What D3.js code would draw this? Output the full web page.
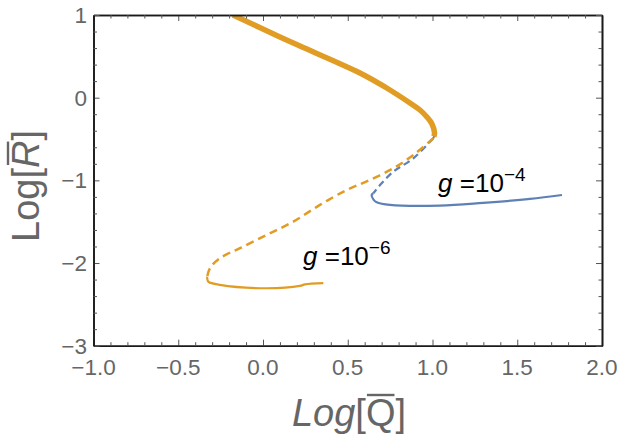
<!DOCTYPE html>
<html><head><meta charset="utf-8">
<script src="https://cdn.jsdelivr.net/npm/d3@7"></script>
<style>
html,body{margin:0;padding:0;background:#fff;}
svg{display:block;font-family:"Liberation Sans",Arial,sans-serif;}
</style></head>
<body>
<svg id="chart" width="623" height="440"></svg>
<script>
// ---- data (Log Q, Log R) ----
const xTicks = [-1.0, -0.5, 0.0, 0.5, 1.0, 1.5, 2.0];
const xTickLabels = ["\u22121.0", "\u22120.5", "0.0", "0.5", "1.0", "1.5", "2.0"];
const yTicks = [1, 0, -1, -2, -3];
const yTickLabels = ["1", "0", "\u22121", "\u22122", "\u22123"];

// g = 1e-4 (blue)
const blueStableUpper = [
  [-0.177, 1.000], [0.100, 0.728], [0.218, 0.618], [0.572, 0.292], [0.720, 0.120],
  [0.867, -0.072], [0.926, -0.158], [0.967, -0.245], [0.997, -0.340], [1.012, -0.440], [1.005, -0.491]
];
const blueUnstable = [
  [1.005, -0.491], [0.887, -0.733], [0.769, -0.895], [0.700, -1.035], [0.651, -1.156]
];
const blueStableLower = [
  [0.651, -1.156], [0.641, -1.177], [0.652, -1.232], [0.671, -1.265], [0.749, -1.297],
  [1.044, -1.306], [1.298, -1.273], [1.575, -1.225], [1.764, -1.177]
];

// g = 1e-6 (orange)
const orangeStableUpper = [
  [-0.177, 1.000], [0.100, 0.734], [0.218, 0.625], [0.572, 0.299], [0.720, 0.129],
  [0.867, -0.064], [0.926, -0.149], [0.967, -0.233], [0.997, -0.318], [1.012, -0.427], [1.008, -0.470]
];
const orangeUnstable = [
  [1.005, -0.491], [0.887, -0.693], [0.769, -0.854], [0.631, -0.995], [0.494, -1.116],
  [0.336, -1.297], [0.179, -1.499], [0.022, -1.660], [-0.136, -1.821], [-0.254, -1.942],
  [-0.313, -2.063], [-0.329, -2.164]
];
const orangeStableLower = [
  [-0.329, -2.164], [-0.329, -2.186], [-0.323, -2.225], [-0.254, -2.265], [0.022, -2.305],
  [0.218, -2.277], [0.248, -2.259], [0.356, -2.244]
];

const labels = [
  {x: 1.033, y: -1.14, exp: "\u22124"},
  {x: 0.236, y: -2.023, exp: "\u22126"}
];

// ---- layout ----
const svg = d3.select("#chart");
const L = 93.5, R = 602, T = 15, B = 345.7;
const x = d3.scaleLinear().domain([-1, 2]).range([L, R]);
const y = d3.scaleLinear().domain([-3, 1]).range([B, T]);

const blue = "#5E81B5", orange = "#E19C24";
const tickCol = "#666", labCol = "#666";

svg.append("clipPath").attr("id", "clip").append("rect")
  .attr("x", L).attr("y", T).attr("width", R - L).attr("height", B - T);

const line = d3.line().x(d => x(d[0])).y(d => y(d[1])).curve(d3.curveCatmullRom.alpha(0.5));
const g = svg.append("g").attr("clip-path", "url(#clip)");

g.append("path").datum(blueStableUpper).attr("d", line).attr("fill", "none")
  .attr("stroke", blue).attr("stroke-width", 2);
g.append("path").datum(orangeStableUpper).attr("d", line).attr("fill", "none")
  .attr("stroke", orange).attr("stroke-width", 5.5).attr("stroke-linecap", "butt");
g.append("path").datum(blueUnstable).attr("d", line).attr("fill", "none")
  .attr("stroke", blue).attr("stroke-width", 2.2).attr("stroke-dasharray", "7,4");
g.append("path").datum(blueStableLower).attr("d", line).attr("fill", "none")
  .attr("stroke", blue).attr("stroke-width", 2.2);
g.append("path").datum(orangeUnstable).attr("d", line).attr("fill", "none")
  .attr("stroke", orange).attr("stroke-width", 2.5).attr("stroke-dasharray", "8,5");
g.append("path").datum(orangeStableLower).attr("d", line).attr("fill", "none")
  .attr("stroke", orange).attr("stroke-width", 2.2);

// ---- axes (frame with inward ticks) ----
const xMinor = d3.range(-10, 21).map(v => v / 10).filter(v => Math.abs(v * 2 - Math.round(v * 2)) > 1e-6);
const yMinor = d3.range(-15, 6).map(v => v / 5).filter(v => Math.abs(v - Math.round(v)) > 1e-6);

function fmtNone() { return ""; }
const axB = d3.axisBottom(x).tickValues(xTicks).tickSizeInner(-6).tickSizeOuter(0).tickFormat(fmtNone);
const axBm = d3.axisBottom(x).tickValues(xMinor).tickSizeInner(-3.5).tickSizeOuter(0).tickFormat(fmtNone);
const axT = d3.axisTop(x).tickValues(xTicks).tickSizeInner(-6).tickSizeOuter(0).tickFormat(fmtNone);
const axTm = d3.axisTop(x).tickValues(xMinor).tickSizeInner(-3.5).tickSizeOuter(0).tickFormat(fmtNone);
const axL = d3.axisLeft(y).tickValues(yTicks).tickSizeInner(-6).tickSizeOuter(0).tickFormat(fmtNone);
const axLm = d3.axisLeft(y).tickValues(yMinor).tickSizeInner(-3.5).tickSizeOuter(0).tickFormat(fmtNone);
const axR = d3.axisRight(y).tickValues(yTicks).tickSizeInner(-6).tickSizeOuter(0).tickFormat(fmtNone);
const axRm = d3.axisRight(y).tickValues(yMinor).tickSizeInner(-3.5).tickSizeOuter(0).tickFormat(fmtNone);

function styleAx(sel) {
  sel.select(".domain").attr("stroke", "#1a1a1a").attr("stroke-width", 1.6);
  sel.selectAll(".tick line").attr("stroke", "#555").attr("stroke-width", 1);
}
[[axB, `translate(0,${B})`], [axBm, `translate(0,${B})`], [axT, `translate(0,${T})`], [axTm, `translate(0,${T})`],
 [axL, `translate(${L},0)`], [axLm, `translate(${L},0)`], [axR, `translate(${R},0)`], [axRm, `translate(${R},0)`]]
  .forEach(([a, tr]) => { const s = svg.append("g").attr("transform", tr).call(a); styleAx(s); });

// tick labels
svg.append("g").selectAll("text").data(xTicks).join("text")
  .attr("x", d => x(d)).attr("y", 375)
  .attr("text-anchor", "middle").attr("font-size", 22.5).attr("fill", tickCol)
  .text((d, i) => xTickLabels[i]);
svg.append("g").selectAll("text").data(yTicks).join("text")
  .attr("x", 87).attr("y", d => y(d)).attr("dy", "0.36em")
  .attr("text-anchor", "end").attr("font-size", 22.5).attr("fill", tickCol)
  .text((d, i) => yTickLabels[i]);

// axis titles
const xt = svg.append("text").attr("x", 349).attr("y", 426).attr("text-anchor", "middle")
  .attr("font-size", 38).attr("fill", labCol);
xt.append("tspan").attr("font-style", "italic").text("Log");
xt.append("tspan").text("[");
xt.append("tspan").text("Q");
xt.append("tspan").text("]");
{
  const ext = xt.node().getExtentOfChar(4);
  svg.append("line").attr("x1", ext.x + 1).attr("x2", ext.x + ext.width - 1)
    .attr("y1", ext.y + 3).attr("y2", ext.y + 3).attr("stroke", labCol).attr("stroke-width", 2.4);
}

const ytG = svg.append("g").attr("transform", "translate(39,186) rotate(-90)");
const yt = ytG.append("text").attr("x", 0).attr("y", 0).attr("text-anchor", "middle")
  .attr("font-size", 38).attr("fill", labCol);
yt.append("tspan").text("Log[");
yt.append("tspan").attr("font-style", "italic").text("R");
yt.append("tspan").text("]");
{
  const ext = yt.node().getExtentOfChar(4);
  ytG.append("line").attr("x1", ext.x + 3).attr("x2", ext.x + ext.width - 1)
    .attr("y1", ext.y + 3).attr("y2", ext.y + 3).attr("stroke", labCol).attr("stroke-width", 2.4);
}

// curve labels
labels.forEach(lb => {
  const t = svg.append("text").attr("x", x(lb.x)).attr("y", y(lb.y)).attr("font-size", 26).attr("fill", "#000");
  t.append("tspan").attr("font-style", "italic").text("g");
  t.append("tspan").text(" =10");
  t.append("tspan").attr("font-size", 19).attr("dy", -11).text(lb.exp);
});
</script>
</body></html>
